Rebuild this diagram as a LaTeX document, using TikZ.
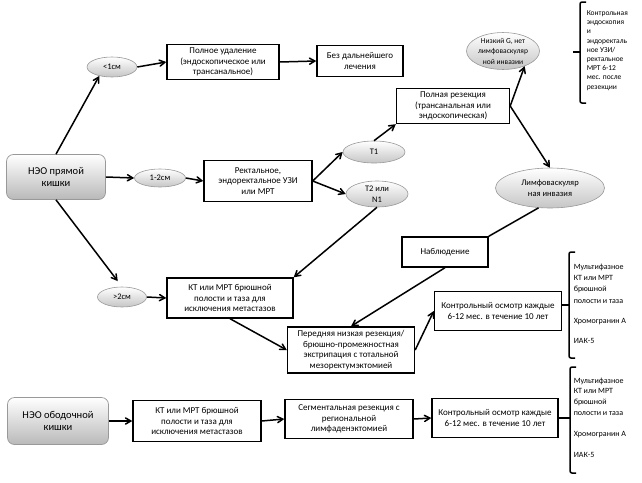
\documentclass[tikz,border=0pt]{standalone}
\usepackage{fontspec}
\setmainfont{Carlito}
\usetikzlibrary{arrows,shapes.geometric}

\begin{document}
\begin{tikzpicture}[x=1pt,y=-1pt,line width=1.5pt,>=angle 60,
	sz/.style 2 args={minimum width=#1pt,minimum height=#2pt},
	blk/.style={draw,line width=1.4pt,align=center,inner sep=1pt,font=\fontsize{9}{10.5}\selectfont},
	oval/.style={ellipse,draw=gray!80,line width=0.6pt,top color=white,bottom color=gray!45,align=center,inner sep=0pt,font=\fontsize{8.5}{10.5}\selectfont},
	neo/.style={draw=gray!80,line width=0.7pt,rounded corners=7pt,top color=white,bottom color=gray!55,align=center,font=\fontsize{10.5}{12.5}\selectfont},
	note/.style={anchor=north west,align=left,inner sep=0pt},
	brk/.style={line width=1.5pt,rounded corners=2pt}]
	\useasboundingbox (0,0) rectangle (642,482);
	% rectal NET
	\node[neo,sz={99}{45}] (neo1) at (56,177) {НЭО прямой\\кишки};
	\node[oval,sz={50}{20}] (lt1) at (112,67) {<1см};
	\node[oval,sz={51}{18}] (mid) at (160,178) {1-2см};
	\node[oval,sz={49}{20}] (lt2) at (122,297) {>2см};
	\node[blk,sz={112}{35}] (full) at (223,62) {Полное удаление\\(эндоскопическое или\\трансанальное)};
	\node[blk,sz={86}{31}] (none) at (360,61) {Без дальнейшего\\лечения};
	\node[blk,sz={108}{41}] (rect) at (258,181) {Ректальное,\\эндоректальное УЗИ\\или МРТ};
	\node[oval,sz={62}{22}] (t1) at (374,152) {T1};
	\node[oval,sz={62}{26}] (t2) at (377,194) {T2 или\\N1};
	\node[blk,sz={113}{35}] (full2) at (453,106) {Полная резекция\\(трансанальная или\\эндоскопическая)};
	\node[oval,sz={73}{36},font=\fontsize{7.5}{10.5}\selectfont] (lowG) at (503,51) {Низкий G, нет\\лимфоваскуляр\\ной инвазии};
	\node[oval,sz={109}{40}] (lymph) at (550,188) {Лимфоваскуляр\\ная инвазия};
	\node[blk,sz={86}{30}] (obs) at (445,252) {Наблюдение};
	\node[blk,sz={126}{40}] (kt1) at (230,298) {КТ или МРТ брюшной\\полости и таза для\\исключения метастазов};
	\node[blk,sz={127}{46}] (front) at (351,350) {Передняя низкая резекция/\\брюшно-промежностная\\экстрипация с тотальной\\мезоректумэктомией};
	\node[blk,sz={127}{39}] (ctrl1) at (498,311) {Контрольный осмотр каждые\\6-12 мес. в течение 10 лет};
	% colon NET
	\node[neo,sz={101}{47}] (neo2) at (58,421) {НЭО ободочной\\кишки};
	\node[blk,sz={128}{41}] (kt2) at (197,421) {КТ или МРТ брюшной\\полости и таза для\\исключения метастазов};
	\node[blk,sz={128}{39}] (seg) at (349,419) {Сегментальная резекция с\\региональной\\лимфаденэктомией};
	\node[blk,sz={126}{39}] (ctrl2) at (495,418) {Контрольный осмотр каждые\\6-12 мес. в течение 10 лет};
	% notes
	\node[note,font=\fontsize{7.5}{9.2}\selectfont] (fu1) at (586,10) {Контрольная\\эндоскопия\\и\\эндоректаль\\ное УЗИ/\\ректальное\\МРТ 6-12\\мес. после\\резекции};
	\node[note,font=\fontsize{8}{11.3}\selectfont] (fu2) at (573,263) {Мультифазное\\КТ или МРТ\\брюшной\\полости и таза\\[9.5pt]Хромогранин А\\[8.5pt]ИАК-5};
	\node[note,font=\fontsize{8}{10.7}\selectfont] (fu3) at (573,377) {Мультифазное\\КТ или МРТ\\брюшной\\полости и таза\\[11pt]Хромогранин А\\[10pt]ИАК-5};
	% arrows
	\draw[->] (neo1.north) to (lt1.215);
	\draw[->] (lt1.east) to (full.west);
	\draw[->] (full.east) to (none.west);
	\draw[->] (neo1.east) to (mid.west);
	\draw[->] (mid.east) to (rect.west);
	\draw[->] (rect.east) to (t1.west);
	\draw[->] (rect.east) to (t2.west);
	\draw[->] (t1.north) to (full2.south west);
	\draw[->] (full2.east) to (lowG.-35);
	\draw[->] (full2.east) to (lymph.north);
	\draw (lymph.240) to (obs.north east);
	\draw[->] (obs.south) to (front.north);
	\draw[->] (t2.south) to (kt1.north east);
	\draw[->,shorten >=7pt] (neo1.south) to (lt2.north);
	\draw[->] (lt2.east) to (kt1.west);
	\draw[->] (kt1.south) to (front.west);
	\draw[->] (front.east) to (ctrl1.west);
	\draw[->] (neo2.east) to (kt2.west);
	\draw[->] (kt2.east) to (seg.west);
	\draw[->] (seg.east) to (ctrl2.west);
	% brackets
	\draw[brk] (586,2) -- (580,2) -- (580,103) -- (586,103);
	\draw (573,52) -- (580,52);
	\draw[brk] (575,252) -- (569,252) -- (569,358) -- (575,358);
	\draw (ctrl1.east |- 0,305) -- (569,305);
	\draw[brk] (576,367) -- (570,367) -- (570,473) -- (576,473);
	\draw (ctrl2.east) -- (570,418);
\end{tikzpicture}
\end{document}
